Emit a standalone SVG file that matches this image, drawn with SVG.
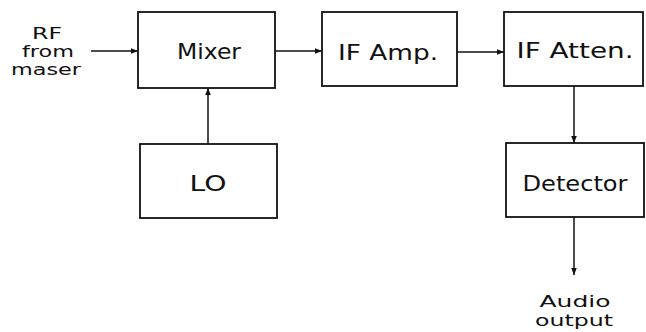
<svg xmlns="http://www.w3.org/2000/svg" width="646" height="332" viewBox="0 0 646 332">
<defs>
<marker id="ah" viewBox="0 0 10 10" refX="10" refY="5" markerWidth="7" markerHeight="7" markerUnits="userSpaceOnUse" orient="auto">
<path d="M0,1 L10,5 L0,9 Z" fill="#111"/>
</marker>
</defs>
<style>
.box{fill:#fff;stroke:#111;stroke-width:1.8}
.lbl{font-family:"DejaVu Sans","Liberation Sans",sans-serif;font-size:21px;fill:#111;text-anchor:middle}
.sm{font-size:15.5px}
.con{stroke:#111;stroke-width:1.5;fill:none;marker-end:url(#ah)}
</style>
<rect width="646" height="332" fill="#fff"/>
<g id="connectors">
<line class="con" x1="91" y1="51" x2="138" y2="51"/>
<line class="con" x1="275" y1="51" x2="322" y2="51"/>
<line class="con" x1="457" y1="52" x2="504" y2="52"/>
<line class="con" x1="208" y1="144" x2="208" y2="88"/>
<line class="con" x1="574" y1="86" x2="574" y2="143"/>
<line class="con" x1="574" y1="217" x2="574" y2="275"/>
</g>
<g id="rf-label">
<text class="lbl sm" x="47" y="39" textLength="30" lengthAdjust="spacingAndGlyphs">RF</text>
<text class="lbl sm" x="48" y="57" textLength="52" lengthAdjust="spacingAndGlyphs">from</text>
<text class="lbl sm" x="46" y="75" textLength="70" lengthAdjust="spacingAndGlyphs">maser</text>
</g>
<g id="mixer">
<rect class="box" x="138" y="12" width="137" height="76"/>
<text class="lbl" x="209" y="59" textLength="64" lengthAdjust="spacingAndGlyphs">Mixer</text>
</g>
<g id="if-amp">
<rect class="box" x="322" y="12" width="135" height="74"/>
<text class="lbl" x="388" y="60" textLength="100" lengthAdjust="spacingAndGlyphs">IF Amp.</text>
</g>
<g id="if-atten">
<rect class="box" x="504" y="12" width="139" height="74"/>
<text class="lbl" x="575" y="58" textLength="117" lengthAdjust="spacingAndGlyphs">IF Atten.</text>
</g>
<g id="lo">
<rect class="box" x="140" y="144" width="137" height="74"/>
<text class="lbl" x="208" y="191" textLength="37" lengthAdjust="spacingAndGlyphs">LO</text>
</g>
<g id="detector">
<rect class="box" x="506" y="143" width="138" height="74"/>
<text class="lbl" x="575" y="191" textLength="105" lengthAdjust="spacingAndGlyphs">Detector</text>
</g>
<g id="audio-label">
<text class="lbl sm" x="575" y="307" textLength="71" lengthAdjust="spacingAndGlyphs">Audio</text>
<text class="lbl sm" x="574" y="326" textLength="78" lengthAdjust="spacingAndGlyphs">output</text>
</g>
</svg>
